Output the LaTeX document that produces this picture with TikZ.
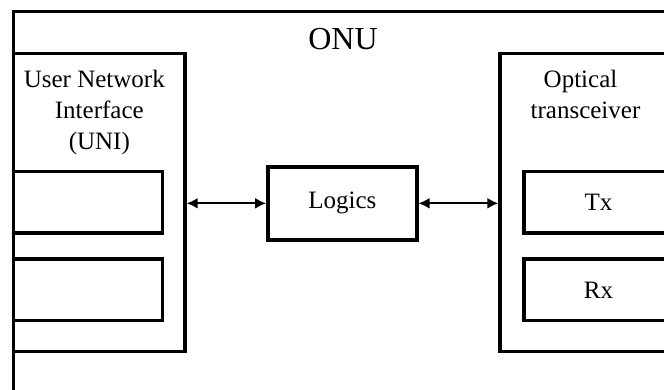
\documentclass[tikz,border=0pt]{standalone}
\usepackage{fontspec}
\setmainfont{Liberation Serif}
\usetikzlibrary{arrows.meta}
\begin{document}
\begin{tikzpicture}[x=1bp,y=-1bp,
  box/.style={draw, line width=3.4bp, rectangle, inner sep=0pt, outer sep=0pt},
  txt/.style={font=\fontsize{25bp}{31bp}\selectfont},
  lbl/.style={inner sep=0pt, align=center, txt},
  link/.style={{Latex[length=11bp,width=11bp]}-{Latex[length=11bp,width=11bp]}, line width=2bp}]
\useasboundingbox (0,0) rectangle (664,389);
\clip (0,0) rectangle (664,389);
% ONU enclosure, running on past the right and bottom edges
\node[box, minimum width=658bp, minimum height=400bp, anchor=north west] (onu) at (13.5,11.7) {};
\node[inner sep=0pt, font=\fontsize{32bp}{38bp}\selectfont, anchor=base] (onulbl) at (343,49.3) {ONU};
% user network interface with its two ports
\node[box, minimum width=171.5bp, minimum height=298bp, anchor=north west] (uni) at (13.5,53.3) {};
\node[lbl, anchor=north] (unilbl) at (99.3,69.7) {User Network\hspace*{10bp}\\Interface\\(UNI)};
\node[box, minimum width=149.2bp, minimum height=61.3bp, anchor=north west] (port1) at (13.5,171.7) {};
\node[box, minimum width=149.2bp, minimum height=61.7bp, anchor=north west] (port2) at (13.5,259) {};
% central logic block
\node[box, txt, minimum width=149bp, minimum height=73bp] (logics) at (342.3,203.3) {Logics};
% optical transceiver with transmitter and receiver
\node[box, minimum width=171.5bp, minimum height=298bp, anchor=north west] (otr) at (500,53.3) {};
\node[lbl, anchor=north] (otrlbl) at (585.5,70) {Optical\hspace*{10bp}\\transceiver};
\node[box, minimum width=149bp, minimum height=61.3bp, anchor=north west] (tx) at (524,171.7) {};
\node[txt] (txlbl) at (tx.center) {Tx};
\node[box, minimum width=149bp, minimum height=61.7bp, anchor=north west] (rx) at (524,259) {};
\node[txt] (rxlbl) at (rx.center) {Rx};
% bidirectional links
\draw[link] ([xshift=1.7bp]logics.west -| uni.east) -- ([xshift=-1.7bp]logics.west);
\draw[link] ([xshift=1.7bp]logics.east) -- ([xshift=-1.7bp]logics.east -| otr.west);
\end{tikzpicture}
\end{document}
